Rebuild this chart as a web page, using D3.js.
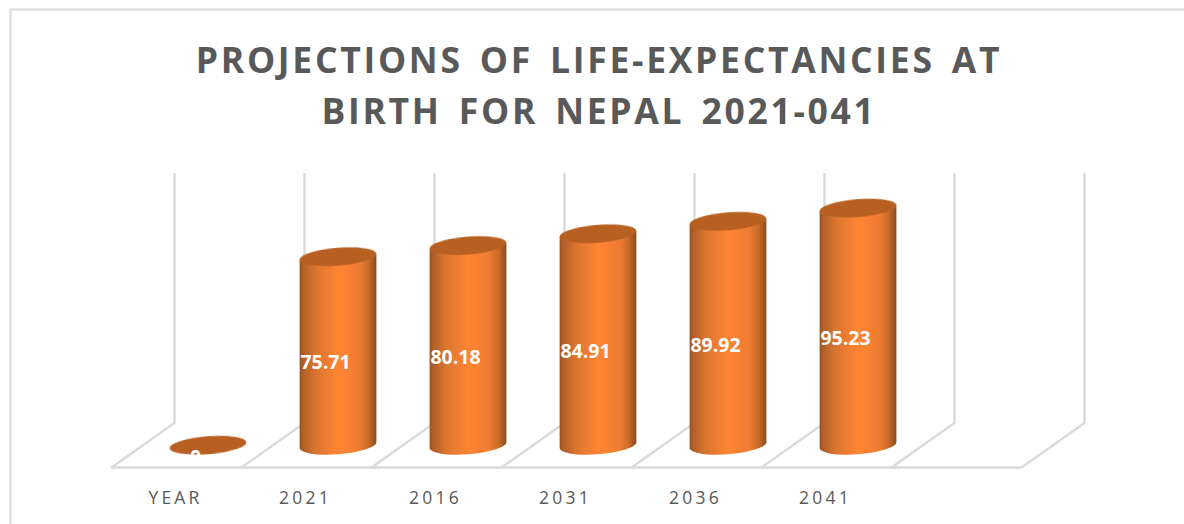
<!DOCTYPE html>
<html>
<head>
<meta charset="utf-8">
<script src="https://cdn.jsdelivr.net/npm/d3@7"></script>
<style>
html,body{margin:0;padding:0;background:#fff;overflow:hidden}
svg{display:block}
text{font-family:"Open Sans",sans-serif}
</style>
</head>
<body>
<svg id="chart" width="1184" height="524"></svg>
<script>
// Life-expectancy projections, drawn as a pseudo-3D cylinder column chart.
const categories = ["YEAR", "2021", "2016", "2031", "2036", "2041", ""];
const values = [0, 75.71, 80.18, 84.91, 89.92, 95.23];
const valueLabels = ["0", "75.71", "80.18", "84.91", "89.92", "95.23"];
const titleLines = ["PROJECTIONS OF LIFE-EXPECTANCIES AT", "BIRTH FOR NEPAL 2021-041"];

const svg = d3.select("#chart");

// Floor geometry: a front edge, and a back edge shifted up and to the right.
const depthX = 63, floorFront = 467.5, floorBack = 423, wallTop = 173;
const x = d3.scaleBand().domain(categories).range([111.5, 1021.5]).padding(0);
const y = d3.scaleLinear().domain([0, 100])
  .range([(floorFront + floorBack) / 2, (floorFront + floorBack) / 2 - 249]);

// Cylinder cross-section: a slightly tilted ellipse.
const rx = 38.5, ry = 9, tiltDeg = -4.5;
const t = tiltDeg * Math.PI / 180;
const halfW = Math.sqrt(rx * rx * Math.cos(t) ** 2 + ry * ry * Math.sin(t) ** 2);
const sideDy = (rx * rx - ry * ry) * Math.abs(Math.sin(t) * Math.cos(t)) / halfW;

const defs = svg.append("defs");
const grad = defs.append("linearGradient").attr("id", "cyl")
  .attr("x1", "0").attr("x2", "1").attr("y1", "0").attr("y2", "0");
[[0, "#9c5420"], [0.05, "#b0602a"], [0.2, "#d8742f"], [0.5, "#ff8533"],
 [0.78, "#ee7c31"], [0.9, "#c76a2a"], [1, "#8a4c1c"]]
  .forEach(([o, c]) => grad.append("stop").attr("offset", o).attr("stop-color", c));

const softEdge = defs.append("filter").attr("id", "soft");
softEdge.append("feGaussianBlur").attr("stdDeviation", 0.35);

// Outer frame, open on the right and at the bottom.
svg.append("path")
  .attr("d", d3.line()([[10.5, 524], [10.5, 9.5], [1184, 9.5]]))
  .attr("fill", "none").attr("stroke", "#e0e0e0").attr("stroke-width", 2.4);

// Title
svg.append("g").selectAll("text").data(titleLines).join("text")
  .attr("x", 599)
  .attr("y", (d, i) => 73 + i * 50.5)
  .attr("text-anchor", "middle")
  .attr("fill", "#595959")
  .attr("font-size", 35.5)
  .attr("font-weight", 700)
  .attr("letter-spacing", 2.7)
  .attr("word-spacing", 5.2)
  .text(d => d);

// Gridlines on the back wall and across the floor
const edges = d3.range(categories.length + 1).map(i => 111.5 + i * x.step());
const grid = svg.append("g").attr("fill", "none").attr("stroke", "#dadada").attr("stroke-width", 2.4);
grid.selectAll("path.rib").data(edges).join("path").attr("class", "rib")
  .attr("d", d => d3.line()([[d, floorFront], [d + depthX, floorBack], [d + depthX, wallTop]]));
grid.append("path")
  .attr("d", d3.line()([[edges[0], floorFront], [edges[edges.length - 1], floorFront]]));

// Category labels
const axis = svg.append("g")
  .attr("transform", `translate(-1,${floorFront + 18.5})`)
  .call(d3.axisBottom(x).tickSize(0).tickPadding(6));
axis.select(".domain").remove();
axis.selectAll("text")
  .attr("fill", "#595959")
  .attr("font-size", 17.5)
  .attr("letter-spacing", 3.2)
  .style("font-family", '"Open Sans",sans-serif');

// Cylinders
const rows = values.map((v, i) => ({ v, label: valueLabels[i], cat: categories[i] }));
const cx = d => x(d.cat) + x.bandwidth() / 2 + depthX / 2;
const bars = svg.append("g").selectAll("g").data(rows).join("g");

bars.filter(d => d.v > 0).append("path")
  .attr("fill", "url(#cyl)")
  .attr("filter", "url(#soft)")
  .attr("d", d => {
    const xl = cx(d) - halfW, xr = cx(d) + halfW;
    return `M${xl},${y(d.v) + sideDy}L${xl},${y(0) + sideDy}` +
      `A${rx},${ry} ${tiltDeg} 0 0 ${xr},${y(0) - sideDy}L${xr},${y(d.v) - sideDy}Z`;
  });

bars.append("ellipse")
  .attr("rx", rx).attr("ry", ry)
  .attr("fill", "#b86023")
  .attr("filter", "url(#soft)")
  .attr("transform", d => `translate(${cx(d)},${y(d.v)}) rotate(${tiltDeg})`);

// Value labels sit left of each cylinder's axis, at mid height.
bars.append("text")
  .attr("x", d => cx(d) - 12.5)
  .attr("y", d => (y(d.v) + y(0)) / 2 + 18.5)
  .attr("text-anchor", "middle")
  .attr("fill", "#fff")
  .attr("font-size", 19.5)
  .attr("font-weight", 700)
  .text(d => d.label);
</script>
</body>
</html>
